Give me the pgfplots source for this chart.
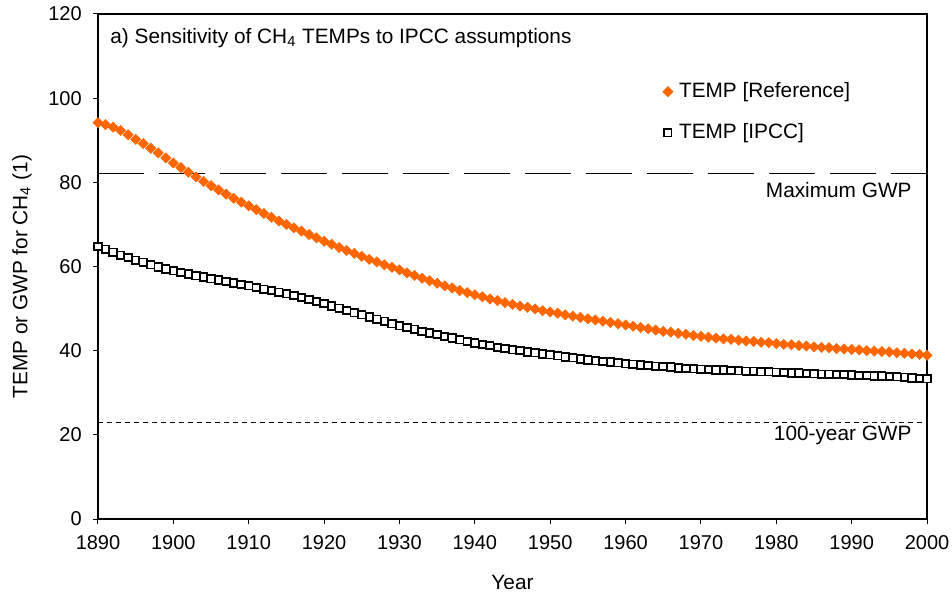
\documentclass[border=0pt]{standalone}
\usepackage{fontspec}
\setmainfont{Liberation Sans}
\usepackage{pgfplots}
\pgfplotsset{compat=1.18}
\usepackage{pgfplotstable}
\usetikzlibrary{calc}
\definecolor{reforange}{RGB}{255,102,0}

\pgfplotstableread{
year ref ipcc
1890 94.2 64.8
1891 93.7 64.1
1892 93.1 63.4
1893 92.3 62.7
1894 91.3 62.1
1895 90.2 61.5
1896 89.2 61.0
1897 88.1 60.4
1898 87.0 59.9
1899 85.8 59.4
1900 84.6 59.0
1901 83.5 58.6
1902 82.4 58.2
1903 81.3 57.8
1904 80.2 57.5
1905 79.2 57.1
1906 78.2 56.8
1907 77.2 56.4
1908 76.2 56.1
1909 75.3 55.7
1910 74.4 55.4
1911 73.5 55.0
1912 72.6 54.6
1913 71.7 54.3
1914 70.8 53.9
1915 70.0 53.5
1916 69.2 53.1
1917 68.4 52.6
1918 67.6 52.2
1919 66.8 51.7
1920 66.0 51.2
1921 65.3 50.6
1922 64.5 50.1
1923 63.8 49.5
1924 63.1 49.0
1925 62.4 48.5
1926 61.7 48.0
1927 61.1 47.5
1928 60.4 47.0
1929 59.8 46.4
1930 59.2 45.9
1931 58.5 45.5
1932 57.9 45.1
1933 57.2 44.6
1934 56.6 44.2
1935 56.0 43.8
1936 55.4 43.4
1937 54.9 43.0
1938 54.3 42.6
1939 53.8 42.2
1940 53.3 41.8
1941 52.8 41.5
1942 52.3 41.2
1943 51.9 40.8
1944 51.4 40.5
1945 51.0 40.2
1946 50.6 40.0
1947 50.3 39.7
1948 49.9 39.5
1949 49.5 39.2
1950 49.2 39.0
1951 48.9 38.8
1952 48.5 38.5
1953 48.2 38.3
1954 47.9 38.0
1955 47.6 37.8
1956 47.3 37.6
1957 47.0 37.4
1958 46.7 37.3
1959 46.4 37.1
1960 46.1 36.9
1961 45.8 36.8
1962 45.5 36.6
1963 45.2 36.5
1964 44.9 36.3
1965 44.6 36.2
1966 44.4 36.1
1967 44.1 35.9
1968 43.9 35.8
1969 43.6 35.7
1970 43.4 35.6
1971 43.2 35.5
1972 43.0 35.4
1973 42.8 35.4
1974 42.7 35.3
1975 42.5 35.2
1976 42.3 35.1
1977 42.2 35.1
1978 42.0 35.0
1979 41.9 35.0
1980 41.7 34.9
1981 41.5 34.8
1982 41.4 34.7
1983 41.2 34.7
1984 41.1 34.6
1985 40.9 34.5
1986 40.8 34.4
1987 40.7 34.4
1988 40.5 34.3
1989 40.4 34.3
1990 40.3 34.2
1991 40.2 34.1
1992 40.0 34.1
1993 39.9 34.0
1994 39.8 34.0
1995 39.7 33.9
1996 39.5 33.8
1997 39.4 33.7
1998 39.2 33.5
1999 39.1 33.4
2000 38.9 33.3
}\datatable

\begin{document}
\fontsize{10.4}{12.5}\selectfont
\begin{tikzpicture}
\begin{axis}[
  scale only axis,
  width=414.5pt, height=252.5pt,
  xmin=1890, xmax=2000, ymin=0, ymax=120,
  xtick={1890,1900,...,2000},
  ytick={0,20,...,120},
  xtick pos=left, ytick pos=left,
  tick align=outside,
  major tick length=2.5pt,
  tick style={black, line width=0.5pt},
  axis line style={black, line width=0.8pt},
  /pgf/number format/assume math mode=true,
  /pgf/number format/1000 sep={},
  tick label style={font=\fontsize{10}{12}\selectfont},
  xticklabel style={yshift=-2pt},
  yticklabel style={xshift=-2pt},
  xlabel={Year},
  ylabel={TEMP or GWP for CH\textsubscript{4} (1)},
  label style={font=\fontsize{10.4}{12.5}\selectfont},
  xlabel style={at={(axis description cs:0.5,-0.1248)}, anchor=center},
  ylabel style={at={(axis description cs:-0.0917,0.48)}, anchor=center, rotate=0},
  legend style={draw=none, fill=none, at={(axis description cs:0.679,0.873)}, anchor=north west,
    row sep=7.5pt, font=\fontsize{10.4}{12.5}\selectfont, inner sep=0pt},
  legend cell align=left,
  legend image code/.code={\path (0cm,0cm) (0.21cm,0cm); \draw[mark repeat=2,mark phase=2] plot coordinates {(0cm,0cm) (0.1cm,0cm) (0.21cm,0cm)};},
  clip=false,
]
\addplot[only marks, mark=square*, mark options={rotate=45}, mark size=1.75pt, draw=reforange, fill=reforange] table[x=year, y=ref] {\datatable};
\addlegendentry{TEMP [Reference]}
\addplot[only marks, mark=square*, mark size=1.85pt, draw=black, fill=white, line width=0.9pt] table[x=year, y=ipcc] {\datatable};
\addlegendentry{TEMP [IPCC]}
\addplot[black, line width=0.5pt, dash pattern=on 23pt off 7.5pt, forget plot] coordinates {(1890,82.2) (2000,82.2)};
\addplot[black, line width=0.5pt, dash pattern=on 2.5pt off 2pt, forget plot] coordinates {(1890,23.0) (2000,23.0)};
\node[anchor=east, inner sep=0pt] at (axis cs:1998,78.2) {Maximum GWP};
\node[anchor=east, inner sep=0pt] at (axis cs:1998,19.8) {100-year GWP};
\node[anchor=west, inner sep=0pt] at (axis description cs:0.0145,0.9525) {a) Sensitivity of CH\textsubscript{4} TEMPs to IPCC assumptions};
\end{axis}
\pgfresetboundingbox
\path ($(current axis.south west)+(-49pt,-40.5pt)$) rectangle ($(current axis.north east)+(12.5pt,7pt)$);
\end{tikzpicture}
\end{document}
